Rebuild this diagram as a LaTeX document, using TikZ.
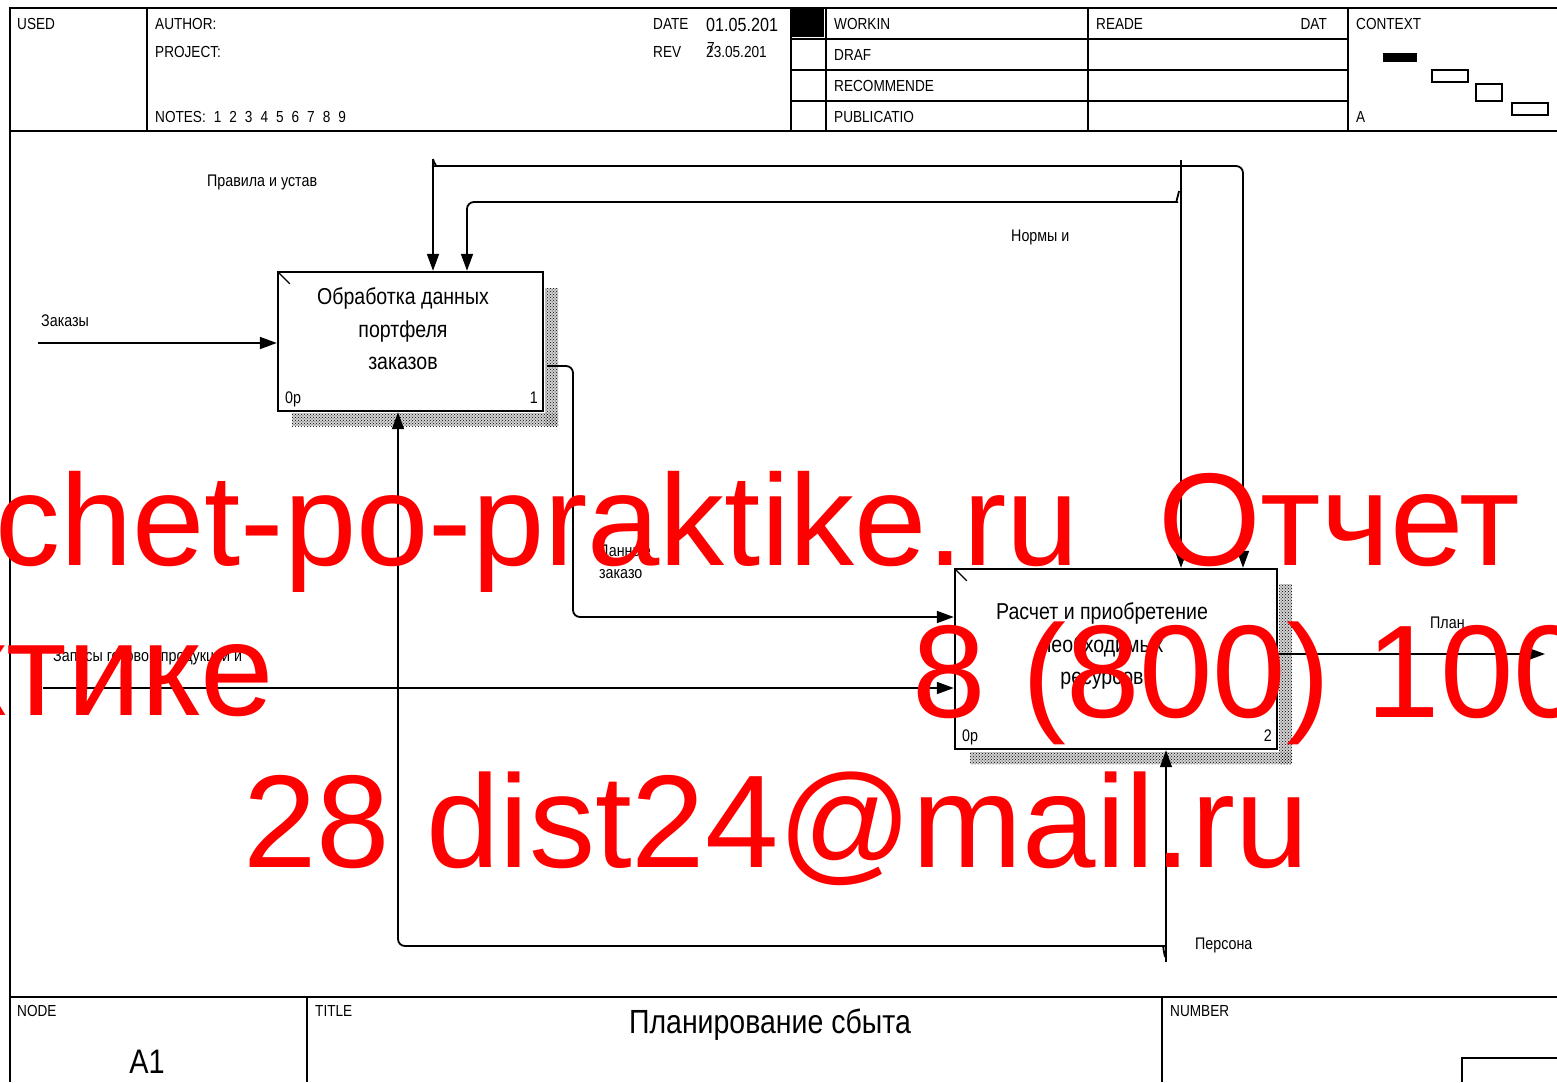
\documentclass[tikz,border=0pt]{standalone}
\usepackage{fontspec}
\setmainfont{Liberation Sans}[FakeStretch=0.85]
\newfontfamily\wmfont{Liberation Sans}
\usetikzlibrary{arrows.meta,patterns}

\begin{document}
\begin{tikzpicture}[x=1pt,y=-1pt,
    frame/.style={line width=2.2pt},
    fbox/.style={draw,line width=2.4pt,fill=white,inner sep=0pt},
    shade/.style={pattern=crosshatch dots,pattern color=black},
    arr/.style={line width=1.8pt,-{Triangle[length=17pt,width=12pt]}},
    hdr/.style={anchor=base west,inner sep=0pt,font=\fontsize{16}{18}\selectfont},
    lbl/.style={anchor=base west,inner sep=0pt,font=\fontsize{16.8}{19}\selectfont},
    boxtext/.style={align=center,inner sep=0pt,font=\fontsize{23}{32.5}\selectfont},
    wm/.style={anchor=base west,inner sep=0pt,text=red,font=\wmfont\fontsize{132}{140}\selectfont}]
				% Page size
				\useasboundingbox (0,0) rectangle (1557,1082);
				\clip (0,0) rectangle (1557,1082);

				% Header frame
				\draw[frame] (10,1082) -- (10,8) -- (1557,8);
				\draw[frame] (10,131) -- (1557,131);
				\foreach \cx in {147,791,826,1088,1348}
					\draw[frame] (\cx,8) -- (\cx,131);
				\foreach \ry in {39,70,101}
					\draw[frame] (791,\ry) -- (1348,\ry);
				\fill (791,8) rectangle (824,37);

				% Context boxes
				\fill (1383,53) rectangle (1417,62);
				\draw[line width=1.8pt] (1432,70) rectangle (1468,82);
				\draw[line width=1.8pt] (1476,84) rectangle (1502,101);
				\draw[line width=1.8pt] (1512,103) rectangle (1548,115);

				% Header texts
				\node[hdr] (used) at (17,29) {USED};
				\node[hdr] (author) at (155,29) {AUTHOR:};
				\node[hdr] (project) at (155,57) {PROJECT:};
				\node[hdr] (notes) at (155,122) {NOTES:\enspace 1\enspace 2\enspace 3\enspace 4\enspace 5\enspace 6\enspace 7\enspace 8\enspace 9};
				\node[hdr] (date) at (653,29) {DATE};
				\node[hdr] (rev) at (653,57) {REV};
				\node[hdr,font=\fontsize{19}{21}\selectfont] (dateval) at (706,31) {01.05.201};
				\node[hdr] (seven) at (707,53) {7};
				\node[hdr] (revval) at (706,57) {23.05.201};
				\node[hdr] (workin) at (834,29) {WORKIN};
				\node[hdr] (draf) at (834,60) {DRAF};
				\node[hdr] (recom) at (834,91) {RECOMMENDE};
				\node[hdr] (publ) at (834,122) {PUBLICATIO};
				\node[hdr] (reade) at (1096,29) {READE};
				\node[hdr,anchor=base east] (dat) at (1327,29) {DAT};
				\node[hdr] (context) at (1356,29) {CONTEXT};
				\node[hdr] (ctxa) at (1356,122) {A};

				% Footer frame
				\draw[frame] (10,997) -- (1557,997);
				\draw[frame] (307,997) -- (307,1082);
				\draw[frame] (1162,997) -- (1162,1082);
				\draw[frame] (1462,1082) -- (1462,1058) -- (1557,1058);
				\node[hdr] (nodelbl) at (17,1016) {NODE};
				\node[hdr] (titlelbl) at (315,1016) {TITLE};
				\node[hdr] (numlbl) at (1170,1016) {NUMBER};
				\node[anchor=base,inner sep=0pt,font=\fontsize{34}{36}\selectfont] (nodeval) at (147,1073) {A1};
				\node[anchor=base,inner sep=0pt,font=\fontsize{33.5}{36}\selectfont] (titleval) at (770,1033) {Планирование сбыта};

				% Shadows
				\fill[gray!35] (545,288) rectangle (558,426);
				\fill[gray!35] (292,413) rectangle (558,426);
				\fill[gray!35] (1279,584) rectangle (1292,764);
				\fill[gray!35] (970,752) rectangle (1292,764);
				\fill[shade] (545,288) rectangle (558,426);
				\fill[shade] (292,413) rectangle (558,426);
				\fill[shade] (1279,584) rectangle (1292,764);
				\fill[shade] (970,752) rectangle (1292,764);

				% Activity boxes
				\node[fbox,minimum width=265pt,minimum height=139pt] (b1) at (410.5,341.5) {};
				\node[fbox,minimum width=322pt,minimum height=180pt] (b2) at (1116,659) {};
				\draw[line width=1.4pt] (b1.north west) ++(1,1) -- ++(12,12);
				\draw[line width=1.4pt] (b2.north west) ++(1,1) -- ++(12,12);
				\node[boxtext] (t1) at (403,329) {Обработка данных\\портфеля\\заказов};
				\node[boxtext] (t2) at (1102,646) {Расчет и приобретение\\необходимых\\ресурсов};
				\node[lbl] (n1a) at (285,403) {0р};
				\node[lbl,anchor=base east] (n1b) at (538,403) {1};
				\node[lbl] (n2a) at (962,741) {0р};
				\node[lbl,anchor=base east] (n2b) at (1272,741) {2};

				% Input: Заказы
				\coordinate (zin) at (38,343);
				\draw[arr] (zin) -- (zin -| b1.west);
				\node[lbl] (zlbl) at (41,326) {Заказы};

				% Control: Правила и устав
				\coordinate (prtop) at (433,159);
				\coordinate (prR) at (1243,166);
				\draw[arr] (prtop) -- (prtop |- b1.north);
				\draw[arr,rounded corners=7] (prtop) to[out=-80,in=180] (442,166) -- (prR) -- (prR |- b2.north);
				\node[lbl] (prlbl) at (207,186) {Правила и устав};

				% Control: Нормы и
				\coordinate (nmtop) at (1181,160);
				\coordinate (nmL) at (467,202);
				\draw[arr,line width=1.3pt] (nmtop) -- (nmtop |- b2.north);
				\draw[arr,rounded corners=7] (1179,191) to[out=-100,in=0] (1170,202) -- (nmL) -- (nmL |- b1.north);
				\node[lbl] (nmlbl) at (1011,241) {Нормы и};

				% Output of box 1: Данные заказо
				\coordinate (dz0) at (547,366);
				\coordinate (dz) at (573,617);
				\draw[arr,rounded corners=7] (dz0) -- (dz0 -| dz) -- (dz) -- (dz -| b2.west);
				\node[lbl] (dzlbl1) at (599,556) {Данные};
				\node[lbl] (dzlbl2) at (599,578) {заказо};

				% Input: Запасы готовой продукции и
				\coordinate (zp) at (43,688);
				\draw[arr] (zp) -- (zp -| b2.west);
				\node[lbl] (zplbl) at (53,661) {Запасы готовой продукции и};

				% Output: План
				\coordinate (pl) at (1545,654);
				\draw[arr] (pl -| b2.east) -- (pl);
				\node[lbl] (pllbl) at (1430,628) {План};

				% Mechanism: Персона
				\coordinate (ps) at (1166,962);
				\coordinate (psL) at (398,946);
				\draw[arr,line width=1.3pt] (ps) -- (ps |- b2.south);
				\draw[arr,rounded corners=7] (1165,957) to[out=100,in=0] (1157,946) -- (psL) -- (psL |- b1.south);
				\node[lbl] (pslbl) at (1195,949) {Персона};

				% Watermark
				\node[wm,font=\wmfont\fontsize{130}{140}\selectfont] (wm1) at (-5,565) {chet-po-praktike.ru};
				\node[wm] (wm2) at (1158,565) {Отчет};
				\node[wm,anchor=base east] (wm3) at (274,715) {ктике};
				\node[wm] (wm4) at (912,717) {8 (800) 100};
				\node[wm] (wm5) at (243,867) {28 dist24@mail.ru};
\end{tikzpicture}
\end{document}
